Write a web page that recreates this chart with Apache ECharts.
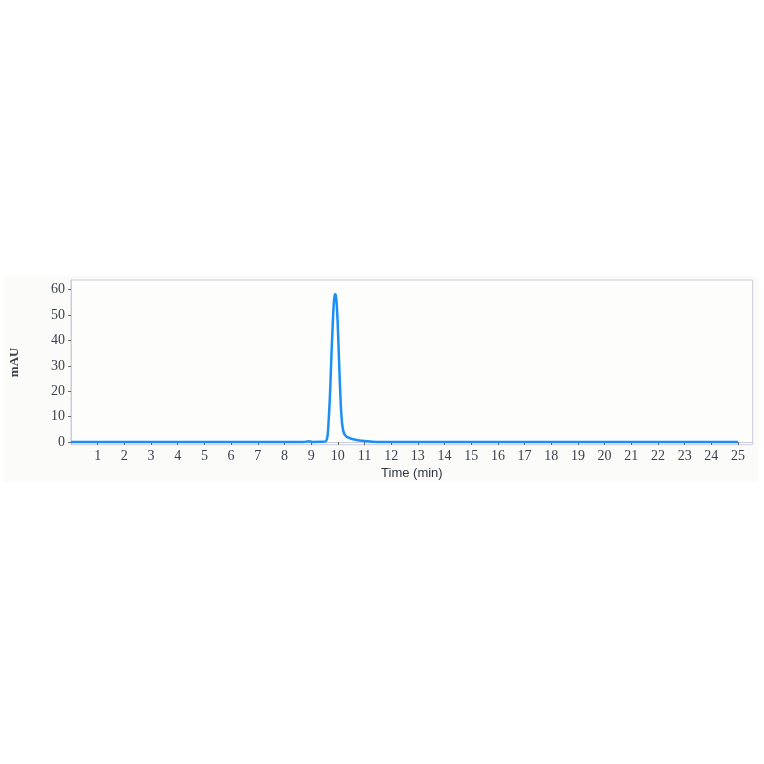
<!DOCTYPE html>
<html>
<head>
<meta charset="utf-8">
<script src="https://cdn.jsdelivr.net/npm/echarts@6/dist/echarts.min.js"></script>
<style>
html,body{margin:0;padding:0;background:#ffffff;}
#chart{width:764px;height:764px;}
</style>
</head>
<body>
<div id="chart"></div>
<script>
// Time (min) and absorbance (mAU)
const times = [0, 8.7, 8.85, 8.9, 8.95, 9.05, 9.4, 9.55, 9.6, 9.63, 9.66, 9.7, 9.73, 9.76, 9.8, 9.83, 9.86, 9.89, 9.91, 9.93, 9.96, 9.99, 10.02, 10.05, 10.08, 10.11, 10.14, 10.17, 10.21, 10.26, 10.32, 10.4, 10.5, 10.62, 10.75, 10.9, 11.1, 11.3, 11.6, 12, 25];
const values = [0, 0, 0.2, 0.35, 0.2, 0.05, 0.1, 0.3, 1.5, 4, 9, 17, 25, 34, 44, 51, 56, 58, 58.2, 57.5, 54, 48, 40, 31, 22.5, 15, 9.8, 6.5, 4.2, 2.9, 2.2, 1.7, 1.3, 1.0, 0.7, 0.5, 0.3, 0.15, 0.05, 0, 0];
const xTicks = [1,2,3,4,5,6,7,8,9,10,11,12,13,14,15,16,17,18,19,20,21,22,23,24,25];
const yTicks = [0,10,20,30,40,50,60];
const xName = 'Time (min)';
const yName = 'mAU';

const seriesData = times.map((t, i) => [t, values[i]]);

const chart = echarts.init(document.getElementById('chart'), null, {renderer: 'canvas'});
chart.setOption({
  backgroundColor: '#ffffff',
  animation: false,
  graphic: [{
    type: 'rect', z: -10, silent: true,
    shape: {x: 4, y: 276, width: 754, height: 206},
    style: {fill: '#fbfbfa'}
  }],
  grid: {
    left: 68.7, top: 280, right: 11.3, bottom: 319.3,
    show: true, borderColor: '#c9ccda', borderWidth: 1, backgroundColor: '#fdfdfb'
  },
  xAxis: {
    type: 'value', min: 0, max: 25.55,
    name: xName, nameLocation: 'middle', nameGap: 22,
    nameTextStyle: {fontFamily: 'Liberation Sans', fontSize: 13, color: '#2e3440'},
    axisLine: {show: true, lineStyle: {color: '#c9ccda', width: 1}},
    axisTick: {show: true, length: 3, customValues: xTicks, lineStyle: {color: '#666'}},
    axisLabel: {customValues: xTicks, fontFamily: 'Liberation Serif', fontSize: 14, color: '#3a3f4b', margin: 5},
    splitLine: {show: false}
  },
  yAxis: {
    type: 'value', min: -1.05, max: 63.8,
    name: yName, nameLocation: 'middle', nameGap: 50, nameRotate: 90,
    nameTextStyle: {fontFamily: 'Liberation Serif', fontSize: 13, fontWeight: 'bold', color: '#3a3f4b'},
    axisLine: {show: true, lineStyle: {color: '#c9ccda', width: 1}},
    axisTick: {show: true, length: 3, customValues: yTicks, lineStyle: {color: '#666'}},
    axisLabel: {customValues: yTicks, fontFamily: 'Liberation Serif', fontSize: 14, color: '#3a3f4b', margin: 6},
    splitLine: {show: false}
  },
  series: [{
    type: 'line',
    data: seriesData,
    showSymbol: false,
    smooth: 0.3,
    lineStyle: {color: '#1b8ff5', width: 2.5},
    itemStyle: {color: '#1b8ff5'}
  }]
});
</script>
</body>
</html>
